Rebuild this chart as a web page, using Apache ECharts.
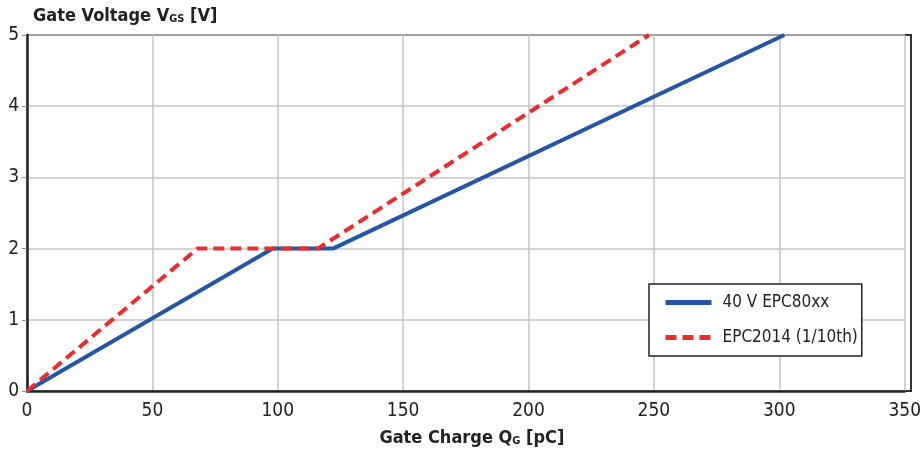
<!DOCTYPE html>
<html>
<head>
<meta charset="utf-8">
<script src="https://cdn.jsdelivr.net/npm/echarts@6/dist/echarts.min.js"></script>
<style>
  html, body { margin: 0; padding: 0; background: #fff; }
  #chart { width: 924px; height: 456px; }
</style>
</head>
<body>
<div id="chart"></div>
<script>
// gate charge [pC] vs gate voltage [V]
const epc80xx = [[0, 0], [98, 2], [122, 2], [302, 5]];
const epc2014 = [[0, 0], [68, 2], [116, 2], [248, 5]];
const seriesNames = ['40 V EPC80xx', 'EPC2014 (1/10th)'];
const xTicks = [0, 50, 100, 150, 200, 250, 300, 350];
const yTicks = [0, 1, 2, 3, 4, 5];

const font = '"Liberation Sans Narrow", "DejaVu Sans Condensed", sans-serif';

let chart = echarts.init(document.getElementById('chart'));
chart.setOption({
    animation: false,
    textStyle: { fontFamily: font },
    title: {
        text: '{b|Gate Voltage V}{s|GS}{b| [V]}',
        left: 28,
        top: 2,
        textStyle: {
            rich: {
                b: { fontFamily: font, fontWeight: 'bold', fontSize: 18, color: '#222' },
                s: { fontFamily: font, fontWeight: 'bold', fontSize: 11, color: '#222', padding: [7, 0, 0, 0] }
            }
        }
    },
    grid: { left: 27, right: 13, top: 35, bottom: 65 },
    legend: {
        orient: 'vertical',
        left: 649,
        top: 284,
        backgroundColor: '#fff',
        borderColor: '#222',
        borderWidth: 1.5,
        padding: [10, 4, 10, 14],
        itemGap: 18,
        itemWidth: 46,
        itemHeight: 14,
        itemStyle: { opacity: 0 },
        lineStyle: { width: 5 },
        textStyle: { fontFamily: font, fontSize: 17, color: '#222', padding: [0, 0, 0, 6] },
        data: seriesNames
    },
    xAxis: {
        type: 'value',
        min: xTicks[0],
        max: xTicks[xTicks.length - 1],
        interval: 50,
        name: '{b|Gate Charge Q}{s|G}{b| [pC]}',
        nameLocation: 'middle',
        nameGap: 38,
        nameTextStyle: {
            padding: [0, 0, 0, 12],
            rich: {
                b: { fontFamily: font, fontWeight: 'bold', fontSize: 18, color: '#222' },
                s: { fontFamily: font, fontWeight: 'bold', fontSize: 11, color: '#222', padding: [7, 0, 0, 0] }
            }
        },
        axisLine: { lineStyle: { color: '#222', width: 2.5 } },
        axisTick: { show: false },
        axisLabel: { fontSize: 19, color: '#222', margin: 11 },
        splitLine: { lineStyle: { color: '#c4c4c4', width: 1.5 } }
    },
    yAxis: {
        type: 'value',
        min: yTicks[0],
        max: yTicks[yTicks.length - 1],
        interval: 1,
        axisLine: { show: true, lineStyle: { color: '#222', width: 2.5 } },
        axisTick: { show: true, length: 5, lineStyle: { color: '#888' } },
        axisLabel: { fontSize: 19, color: '#222', margin: 8 },
        splitLine: { lineStyle: { color: '#c4c4c4', width: 1.5 } }
    },
    graphic: [{
        type: 'rect',
        shape: { x: 27, y: 35, width: 884, height: 356 },
        style: { fill: 'none', stroke: '#333', lineWidth: 2 },
        silent: true
    }],
    series: [
        {
            name: seriesNames[0],
            type: 'line',
            data: epc80xx,
            showSymbol: false,
            symbol: 'none',
            itemStyle: { color: '#1f6fc0' },
            lineStyle: { color: '#2456a8', width: 4 },
            z: 3
        },
        {
            name: seriesNames[1],
            type: 'line',
            data: epc2014,
            showSymbol: false,
            symbol: 'none',
            itemStyle: { color: '#ee2a2f' },
            lineStyle: { color: '#ee2a2f', width: 4, type: [11, 6] },
            z: 4
        }
    ]
});
</script>
</body>
</html>
